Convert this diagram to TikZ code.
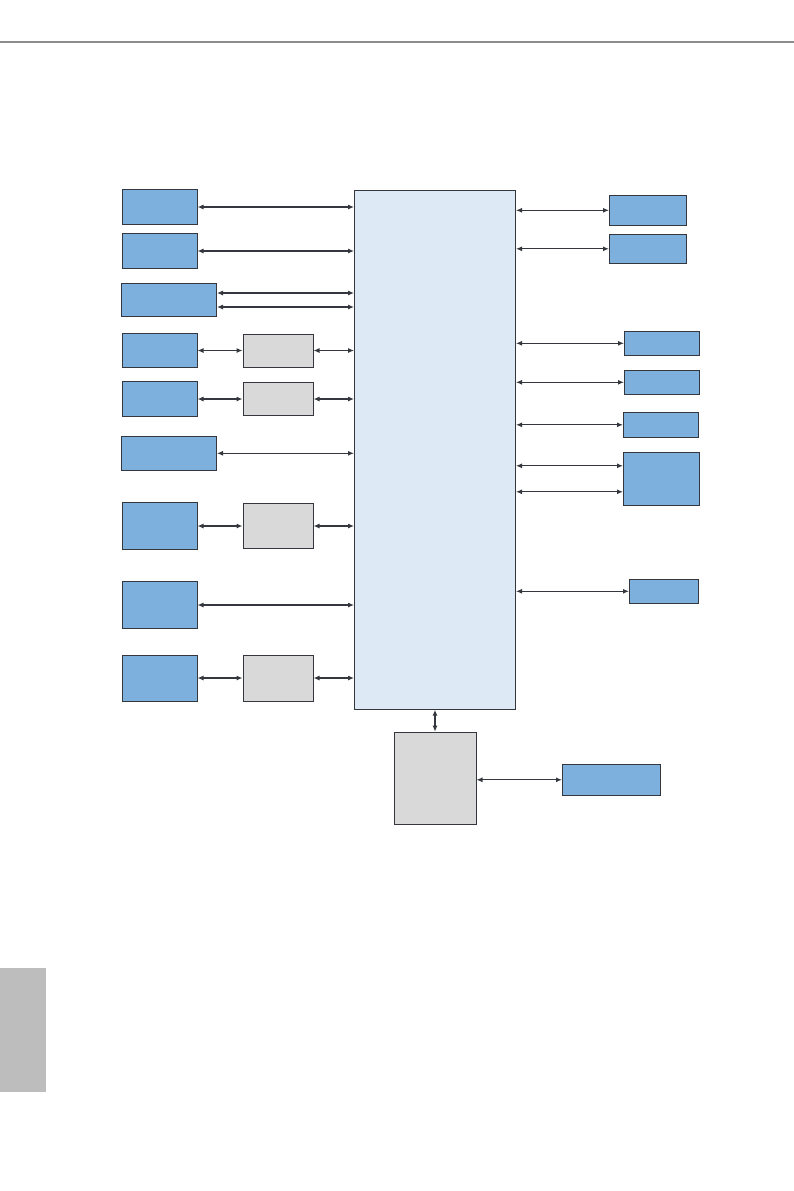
\documentclass[tikz,border=0pt]{standalone}
\usepackage{xcolor}
\usepackage{tikz}
\usetikzlibrary{arrows.meta,positioning,calc}
\definecolor{BlkBlue}{RGB}{126,176,222}
\definecolor{HubBlue}{RGB}{222,233,246}
\definecolor{ChipGrey}{RGB}{217,217,217}
\definecolor{EdgeDark}{RGB}{52,56,62}
\definecolor{RuleGrey}{RGB}{140,140,140}
\definecolor{TabGrey}{RGB}{189,189,189}
\tikzset{
  blk/.style={rectangle,draw=EdgeDark,fill=BlkBlue,line width=1pt,inner sep=0pt},
  gbox/.style={rectangle,draw=EdgeDark,fill=ChipGrey,line width=1pt,inner sep=0pt},
  hub/.style={rectangle,draw=EdgeDark,fill=HubBlue,line width=1pt,inner sep=0pt},
  link/.style={{Latex[length=6pt,width=5pt]}-{Latex[length=6pt,width=5pt]},
               line width=1.1pt,EdgeDark},
}

\begin{document}
\begin{tikzpicture}[x=1pt,y=-1pt,node distance=45pt]
  \useasboundingbox (0,0) rectangle (794,1191);
  % page rule and side tab
  \draw[RuleGrey,line width=2pt] (0,41.5) -- (794,41.5);
  \fill[TabGrey] (0,968) rectangle (45.5,1092);

  % central hub
  \node[hub,minimum width=161pt,minimum height=519pt] (hub) at (435,449.7) {};
  \node[gbox,minimum width=82pt,minimum height=92pt,below=22pt of hub] (hubB) {};

  % left column
  \node[blk,minimum width=75pt,minimum height=35pt] (l1) at (159.5,207) {};
  \node[blk,minimum width=75pt,minimum height=35pt] (l2) at (159.5,251) {};
  \node[blk,minimum width=95pt,minimum height=33pt] (l3) at (169,300) {};
  \node[blk,minimum width=75pt,minimum height=34pt] (l4) at (159.5,350.5) {};
  \node[blk,minimum width=75pt,minimum height=35pt] (l5) at (159.5,399) {};
  \node[blk,minimum width=95pt,minimum height=34pt] (l6) at (169,453.3) {};
  \node[blk,minimum width=75pt,minimum height=47pt] (l7) at (159.5,526) {};
  \node[blk,minimum width=75pt,minimum height=47pt] (l8) at (159.5,605) {};
  \node[blk,minimum width=75pt,minimum height=46pt] (l9) at (159.5,678) {};

  \node[gbox,minimum width=70pt,minimum height=33pt,right=of l4] (g4) {};
  \node[gbox,minimum width=70pt,minimum height=33pt,right=of l5] (g5) {};
  \node[gbox,minimum width=70pt,minimum height=45pt,right=of l7] (g7) {};
  \node[gbox,minimum width=70pt,minimum height=46pt,right=of l9] (g9) {};

  % right column
  \node[blk,minimum width=77pt,minimum height=30pt] (r1) at (648,210.3) {};
  \node[blk,minimum width=77pt,minimum height=29pt] (r2) at (648,248.8) {};
  \node[blk,minimum width=75pt,minimum height=24pt] (r3) at (662,343.3) {};
  \node[blk,minimum width=75pt,minimum height=24pt] (r4) at (662,382.3) {};
  \node[blk,minimum width=75pt,minimum height=25pt] (r5) at (661,424.8) {};
  \node[blk,minimum width=76pt,minimum height=53pt] (r6) at (661.5,478.8) {};
  \node[blk,minimum width=69pt,minimum height=24pt] (r7) at (664,591.3) {};
  \node[blk,minimum width=98pt,minimum height=31pt] (rb) at (611.5,779.8) {};

  % split points for double links
  \coordinate (l3a) at ([yshift=7pt]l3.east);
  \coordinate (l3b) at ([yshift=-7pt]l3.east);
  \coordinate (r6a) at ([yshift=13pt]r6.west);
  \coordinate (r6b) at ([yshift=-13pt]r6.west);

  % left links
  \draw[link] (l1.east) -- (hub.west |- l1.east);
  \draw[link] (l2.east) -- (hub.west |- l2.east);
  \draw[link] (l3a) -- (hub.west |- l3a);
  \draw[link] (l3b) -- (hub.west |- l3b);
  \draw[link] (l4) -- (g4);
  \draw[link] (g4.east) -- (hub.west |- g4.east);
  \draw[link] (l5) -- (g5);
  \draw[link] (g5.east) -- (hub.west |- g5.east);
  \draw[link] (l6.east) -- (hub.west |- l6.east);
  \draw[link] (l7) -- (g7);
  \draw[link] (g7.east) -- (hub.west |- g7.east);
  \draw[link] (l8.east) -- (hub.west |- l8.east);
  \draw[link] (l9) -- (g9);
  \draw[link] (g9.east) -- (hub.west |- g9.east);

  % right links
  \draw[link] (hub.east |- r1.west) -- (r1.west);
  \draw[link] (hub.east |- r2.west) -- (r2.west);
  \draw[link] (hub.east |- r3.west) -- (r3.west);
  \draw[link] (hub.east |- r4.west) -- (r4.west);
  \draw[link] (hub.east |- r5.west) -- (r5.west);
  \draw[link] (hub.east |- r6a) -- (r6a);
  \draw[link] (hub.east |- r6b) -- (r6b);
  \draw[link] (hub.east |- r7.west) -- (r7.west);

  % bottom
  \draw[link] (hub) -- (hubB);
  \draw[link] (hubB.east |- rb.west) -- (rb.west);
\end{tikzpicture}
\end{document}
